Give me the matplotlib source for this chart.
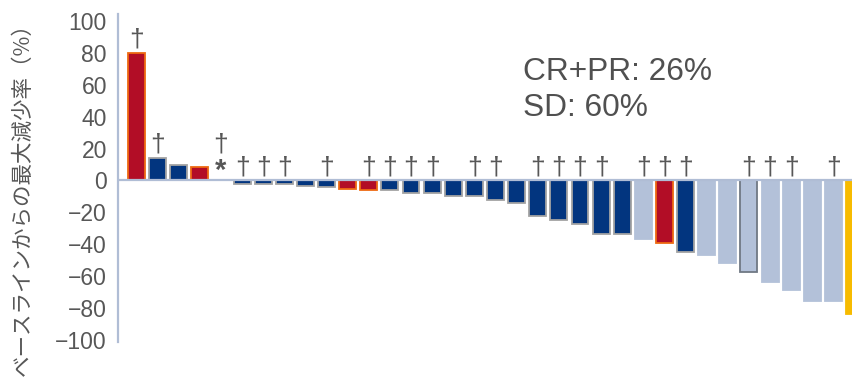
import matplotlib
matplotlib.use("Agg")
import matplotlib.pyplot as plt
import numpy as np

# best change from baseline (%) per patient, sorted
change_pct = [80, 14, 9.5, 8.5, 0, -2, -2, -2, -3.5, -4, -5.5, -6, -6, -8, -8,
              -10, -10, -12.5, -14, -22.5, -25, -27.5, -33.5, -33.5, -36.5,
              -39.5, -45, -47, -52, -57.5, -64, -69, -76, -76, -84]
# response group per bar: R=red, B=blue, L=light, L2=light w/ dark edge, Y=yellow, N=no bar
group = ["R", "B", "B", "R", "N", "B", "B", "B", "B", "B", "R", "R", "B", "B", "B",
         "B", "B", "B", "B", "B", "B", "B", "B", "B", "L",
         "R", "B", "L", "L", "L2", "L", "L", "L", "L", "Y"]
dagger_idx = [0, 1, 4, 5, 6, 7, 9, 11, 12, 13, 14, 16, 17, 19, 20, 21, 22,
              24, 25, 26, 29, 30, 31, 33]
star_idx = [4]
summary_lines = ["CR+PR: 26%", "SD: 60%"]
ylabel = "ベースラインからの最大減少率（%）"
yticks = list(range(-100, 101, 20))

face = {"R": "#b20d26", "B": "#02357f", "L": "#b3c1d9", "L2": "#b3c1d9",
        "Y": "#f7bb00", "N": "none"}
edge = {"R": "#ee6a12", "B": "#a3a3a3", "L": "#b3c1d9", "L2": "#707884",
        "Y": "#f7bb00", "N": "none"}
axis_col = "#b0bdd5"
text_col = "#575757"

plt.rcParams["font.family"] = ["Liberation Sans", "DejaVu Sans"]

fig = plt.figure(figsize=(8.52, 3.77), dpi=100)
ax = fig.add_axes([118 / 852, 1 - 342 / 377, 1 - 118 / 852, (342 - 14) / 377])

x = np.arange(len(change_pct))
for xi, v, g in zip(x, change_pct, group):
    if g == "N":
        continue
    ax.bar(xi, v, width=0.8, color=face[g], edgecolor=edge[g],
           linewidth=1.3, zorder=2)

ax.axhline(0, color=axis_col, lw=1.6, zorder=3)

for i in dagger_idx:
    top = max(change_pct[i], 0)
    off = 17 if i in star_idx else 1
    ax.annotate("†", (x[i], top), xytext=(0, off), textcoords="offset points",
                ha="center", va="bottom", fontsize=19, color=text_col)
for i in star_idx:
    ax.annotate("*", (x[i], 0), xytext=(0, -3), textcoords="offset points",
                ha="center", va="bottom", fontsize=21, color=text_col,
                fontweight="bold")

ax.set_xlim(-0.876, 33.88)
ax.set_ylim(-101.5, 104.6)
ax.set_yticks(yticks)
ax.set_xticks([])
ax.tick_params(axis="y", length=0, pad=8, labelsize=16.5, labelcolor=text_col)
for s in ["top", "right", "bottom"]:
    ax.spines[s].set_visible(False)
ax.spines["left"].set_color(axis_col)
ax.spines["left"].set_linewidth(1.6)

ax.text(523 / 852, 1 - 80 / 377, summary_lines[0], transform=fig.transFigure,
        fontsize=22.8, color="#505050", va="baseline")
ax.text(523 / 852, 1 - 116 / 377, summary_lines[1], transform=fig.transFigure,
        fontsize=22.8, color="#505050", va="baseline")

fig.text(23 / 852, 1 - 194 / 377, ylabel, rotation=90, ha="center", va="center",
         fontsize=15.5, color=text_col, family=["Noto Sans CJK JP", "DejaVu Sans"])

fig.savefig("out.png", dpi=100)
